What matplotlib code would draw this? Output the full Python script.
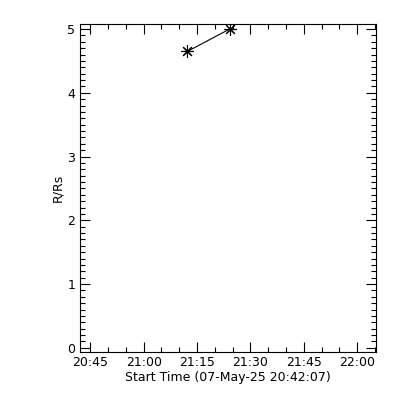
import datetime as dt
import matplotlib
matplotlib.use("Agg")
import matplotlib.pyplot as plt
import matplotlib.dates as mdates
from matplotlib.ticker import MultipleLocator

# height-time points (R/Rs vs time)
TIMES = ["2025-05-07 21:12:18", "2025-05-07 21:24:07"]
HEIGHTS = [4.65, 5.0]
START = "07-May-25 20:42:07"
XMIN = "2025-05-07 20:42:07"
XMAX = "2025-05-07 22:05:16"

t = [dt.datetime.strptime(s, "%Y-%m-%d %H:%M:%S") for s in TIMES]

fig = plt.figure(figsize=(4, 4), dpi=100)
ax = fig.add_axes([0.2, 0.121, 0.74, 0.819])
ax.plot(t, HEIGHTS, color="black", linewidth=0.8,
        marker=(8, 2, 0), markersize=9, markeredgewidth=0.8)

ax.set_xlim(dt.datetime.strptime(XMIN, "%Y-%m-%d %H:%M:%S"),
            dt.datetime.strptime(XMAX, "%Y-%m-%d %H:%M:%S"))
ax.set_ylim(-0.06, 5.08)

ax.xaxis.set_major_locator(mdates.MinuteLocator(byminute=[0, 15, 30, 45]))
ax.xaxis.set_minor_locator(mdates.MinuteLocator(byminute=range(0, 60, 5)))
ax.xaxis.set_major_formatter(mdates.DateFormatter("%H:%M"))
ax.yaxis.set_major_locator(MultipleLocator(1))
ax.yaxis.set_minor_locator(MultipleLocator(0.1))

ax.tick_params(which="both", direction="in", top=True, right=True,
               labelsize=9, width=0.8)
ax.tick_params(which="major", length=7)
ax.tick_params(which="minor", length=3.5)
for sp in ax.spines.values():
    sp.set_linewidth(0.8)

ax.set_xlabel(f"Start Time ({START})", fontsize=9, labelpad=1)
ax.set_ylabel("R/Rs", fontsize=9, labelpad=2)

fig.savefig("out.png", dpi=100)
